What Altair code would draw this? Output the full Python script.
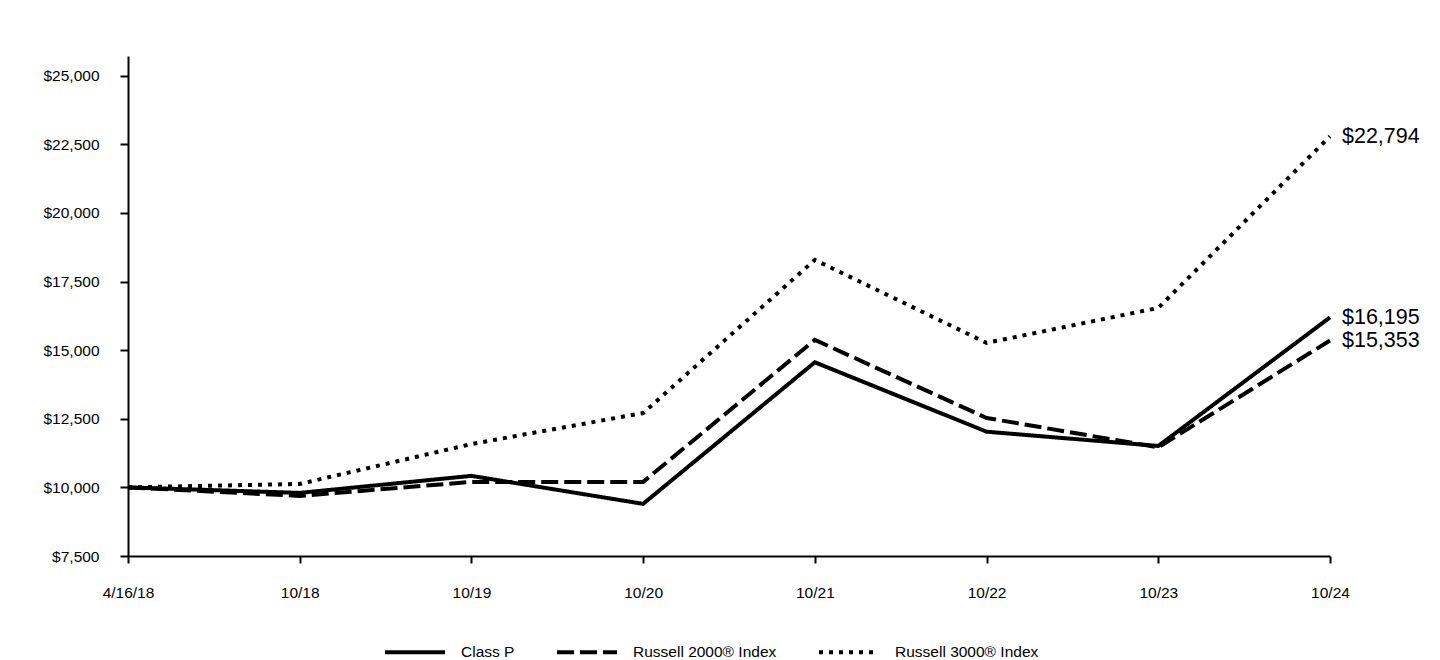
import altair as alt
import pandas as pd

periods = ["4/16/18", "10/18", "10/19", "10/20", "10/21", "10/22", "10/23", "10/24"]
series_names = ["Class P", "Russell 2000\u00ae Index", "Russell 3000\u00ae Index"]
class_p = [10000, 9800, 10420, 9400, 14560, 12030, 11510, 16195]
russell_2000 = [10000, 9690, 10200, 10200, 15375, 12530, 11460, 15353]
russell_3000 = [10000, 10125, 11580, 12710, 18290, 15265, 16540, 22794]
y_ticks = [7500, 10000, 12500, 15000, 17500, 20000, 22500, 25000]

rows = []
for name, vals in zip(series_names, [class_p, russell_2000, russell_3000]):
    for i, (p, v) in enumerate(zip(periods, vals)):
        rows.append({"period": p, "idx": i, "series": name, "value": v})
df = pd.DataFrame(rows)

FONT = "Liberation Sans"

x_enc = alt.X(
    "period:O",
    sort=periods,
    scale=alt.Scale(type="point", padding=0),
    axis=alt.Axis(title=None, labelAngle=0, tickSize=7, labelPadding=22,
                  labelFontSize=15.5),
)
y_scale = alt.Scale(domain=[7500, 25720], nice=False, zero=False)

lines = alt.Chart(df).mark_line(strokeWidth=4, color="black", strokeCap="butt").encode(
    x=x_enc,
    y=alt.Y("value:Q", scale=y_scale,
            axis=alt.Axis(title=None, values=y_ticks, format="$,.0f", tickSize=8,
                          labelPadding=21, labelFontSize=15.5)),
    strokeDash=alt.StrokeDash(
        "series:N",
        scale=alt.Scale(domain=series_names, range=[[1, 0], [17, 6], [4, 6]]),
        legend=alt.Legend(
            title=None, orient="none", direction="horizontal",
            legendX=255, legendY=564,
            symbolType="stroke", symbolSize=3600, symbolStrokeWidth=4,
            symbolStrokeColor="black", labelOffset=14, columnPadding=34,
            labelFontSize=15.5, labelFont=FONT, labelColor="black",
        ),
    ),
    detail="series:N",
)

labels = alt.Chart(df[df["idx"] == len(periods) - 1]).mark_text(
    align="left", baseline="middle", dx=12, dy=1, fontSize=21.5, font=FONT, color="black"
).encode(
    x=alt.X("period:O", sort=periods, scale=alt.Scale(type="point", padding=0)),
    y=alt.Y("value:Q", scale=y_scale),
    text=alt.Text("value:Q", format="$,.0f"),
)

chart = (lines + labels).properties(
    width=1202, height=500,
    autosize=alt.AutoSizeParams(type="none"),
    padding={"left": 120, "top": 48, "right": 102, "bottom": 108},
    background="white",
).configure_view(stroke=None).configure_axis(
    grid=False, domainColor="black", domainWidth=2, tickColor="black", tickWidth=2,
    labelColor="black", labelFont=FONT,
)

chart.save("out.html", embed_options={"renderer": "svg", "actions": False})
